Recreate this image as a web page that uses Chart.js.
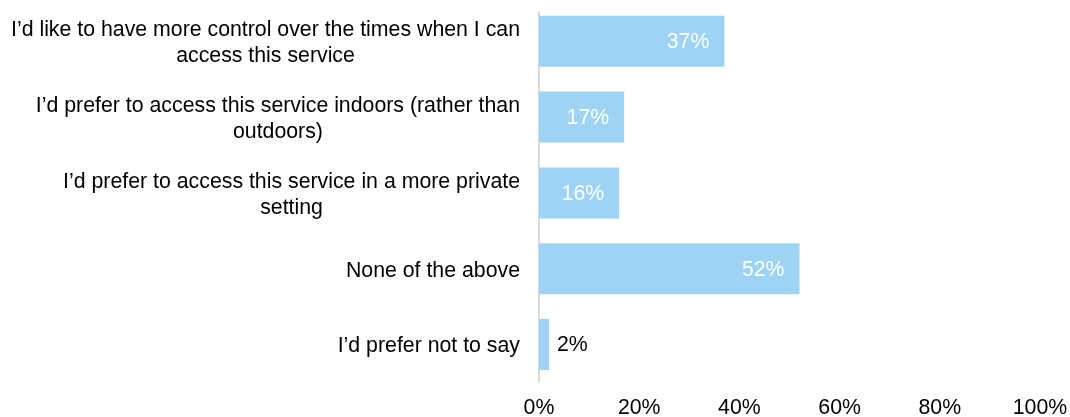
<!DOCTYPE html>
<html>
<head>
<meta charset="utf-8">
<script src="https://cdn.jsdelivr.net/npm/chart.js@4"></script>
<style>
  html, body { margin: 0; padding: 0; background: #fff; }
  #wrap { width: 1070px; height: 417px; }
</style>
</head>
<body>
<div id="wrap"><canvas id="surveyChart"></canvas></div>
<script>
// Survey answers, each label split into the lines it is shown on
var categories = [
    ['I\u2019d like to have more control over the times when I can', 'access this service'],
    ['I\u2019d prefer to access this service indoors (rather than', 'outdoors)'],
    ['I\u2019d prefer to access this service in a more private', 'setting'],
    ['None of the above'],
    ['I\u2019d prefer not to say']
];
var percentages = [37, 17, 16, 52, 2];
var xTicks = [0, 20, 40, 60, 80, 100];

var FONT = '"Liberation Sans", Arial, sans-serif';
var FONT_SIZE = 21.3;
var BAR_COLOR = 'rgb(158, 211, 243)';

// Draws the axis line, the right-aligned category labels and the value labels
var surveyLabels = {
    id: 'surveyLabels',
    beforeDatasetsDraw: function(chart) {
        var ctx = chart.ctx;
        var area = chart.chartArea;
        var x0 = chart.scales.x.getPixelForValue(0);
        ctx.save();
        ctx.strokeStyle = '#d9d9d9';
        ctx.lineWidth = 2;
        ctx.beginPath();
        ctx.moveTo(x0, area.top + 8);
        ctx.lineTo(x0, area.bottom);
        ctx.stroke();
        ctx.restore();
    },
    afterDatasetsDraw: function(chart) {
        var ctx = chart.ctx;
        var area = chart.chartArea;
        var yScale = chart.scales.y;
        var lineHeight = 26;

        ctx.save();
        ctx.font = FONT_SIZE + 'px ' + FONT;
        ctx.textBaseline = 'middle';
        ctx.textAlign = 'center';
        ctx.fillStyle = '#000';

        categories.forEach(function(lines, i) {
            var yc = yScale.getPixelForValue(i) + 2;
            var widest = Math.max.apply(null, lines.map(function(l) { return ctx.measureText(l).width; }));
            var cx = area.left - 19 - widest / 2;
            var y0 = yc - (lines.length - 1) * lineHeight / 2;
            lines.forEach(function(l, j) {
                ctx.fillText(l, cx, y0 + j * lineHeight);
            });
        });

        var meta = chart.getDatasetMeta(0);
        meta.data.forEach(function(bar, i) {
            var v = percentages[i];
            var text = v + '%';
            if (v >= 10) {
                ctx.textAlign = 'right';
                ctx.fillStyle = '#fff';
                ctx.fillText(text, bar.x - 15, bar.y + 1);
            } else {
                ctx.textAlign = 'left';
                ctx.fillStyle = '#000';
                ctx.fillText(text, bar.x + 8, bar.y + 1);
            }
        });
        ctx.restore();
    }
};

var ctx = document.getElementById('surveyChart').getContext('2d');
var surveyChart = new Chart(ctx, {
    type: 'bar',
    data: {
        labels: categories.map(function(c) { return c.join(' '); }),
        datasets: [{
            data: percentages,
            backgroundColor: BAR_COLOR,
            borderWidth: 0,
            barPercentage: 0.673,
            categoryPercentage: 1
        }]
    },
    options: {
        indexAxis: 'y',
        responsive: true,
        maintainAspectRatio: false,
        animation: false,
        layout: {
            padding: { left: 539, right: 30, top: 3.4, bottom: 0 }
        },
        scales: {
            x: {
                min: 0,
                max: 100,
                afterBuildTicks: function(scale) {
                    scale.ticks = xTicks.map(function(v) { return { value: v }; });
                },
                afterFit: function(scale) {
                    scale.height = 34.6;
                    scale.paddingLeft = 0;
                    scale.paddingRight = 0;
                },
                grid: { display: false, drawTicks: false },
                border: { display: false },
                ticks: {
                    padding: 13,
                    color: '#000',
                    maxRotation: 0,
                    font: { family: FONT, size: FONT_SIZE, lineHeight: 1.2 },
                    callback: function(value) {
                        return value + '%';
                    }
                }
            },
            y: {
                display: false
            }
        },
        plugins: {
            legend: { display: false },
            tooltip: { enabled: false }
        }
    },
    plugins: [surveyLabels]
});
</script>
</body>
</html>
